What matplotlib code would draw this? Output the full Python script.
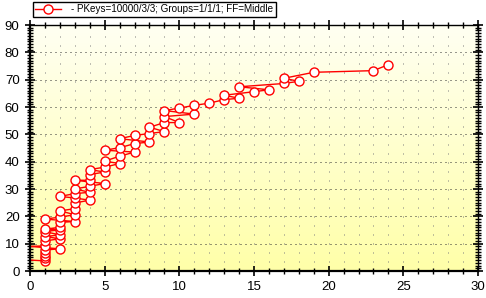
import numpy as np
import matplotlib
matplotlib.use("Agg")
import matplotlib.pyplot as plt
from matplotlib.ticker import MultipleLocator

plt.rcParams['font.family'] = ['Liberation Sans', 'DejaVu Sans']

# data points in drawing order
xs = [0, 0, 1, 1, 1, 1, 1, 2, 0, 1, 1, 2, 1, 2, 1, 2, 1, 2, 2, 3, 1, 2, 3, 2, 3, 3, 4, 3, 2, 3,
      4, 3, 4, 5, 3, 4, 4, 5, 4, 5, 6, 5, 6, 7, 5, 6, 7, 8, 6, 7, 8, 9, 8, 9, 10, 9, 11, 9, 10, 11,
      12, 13, 14, 13, 15, 16, 14, 17, 18, 17, 19, 23, 24]
ys = [0, 4, 3.7, 4.7, 5.6, 6.7, 7.7, 8.1, 9, 9.2, 11, 11.8, 12.6, 13.2, 14.4, 15.1, 15.3, 16, 17.8, 18.1,
      19.0, 19.7, 20.6, 22, 22.8, 24.9, 25.9, 26.7, 27.3, 28.3, 28.8, 30, 31, 32, 33.2, 33.2, 35.3, 36.2,
      37.1, 38, 39.3, 40.2, 42, 43.5, 44.2, 45.1, 46.6, 47.2, 48.4, 49.6, 50.3, 51, 52.6, 54.3, 54.3,
      56.5, 57.4, 58.7, 59.6, 60.6, 61.4, 62.7, 63.2, 64.3, 65.6, 66.3, 67.4, 68.6, 69.4, 70.5, 72.7,
      73.3, 75.5]
label = "- PKeys=10000/3/3; Groups=1/1/1; FF=Middle"
x_ticks = [0, 5, 10, 15, 20, 25, 30]
y_ticks = [0, 10, 20, 30, 40, 50, 60, 70, 80, 90]

W, H = 486, 298
fig = plt.figure(figsize=(W / 100, H / 100), dpi=100)
ax = fig.add_axes([30 / W, 1 - 271 / H, (478 - 30) / W, (271 - 25) / H])

# gradient background (light at top, yellow at bottom)
grad = np.linspace(0, 1, 256).reshape(-1, 1)
top = np.array([1.0, 1.0, 0.95])
bot = np.array([1.0, 1.0, 0.66])
img = top[None, None, :] * (1 - grad[:, :, None]) + bot[None, None, :] * grad[:, :, None]
ax.imshow(img, extent=[0, 30, 0, 90], aspect='auto', zorder=0, origin='upper')
ax.set_xlim(0, 30)
ax.set_ylim(0, 90)

# grid
for xv in range(1, 30):
    ax.axvline(xv, color='#808080', lw=0.72, dashes=(1, 8), zorder=1)
for yv in range(10, 90, 10):
    ax.axhline(yv, color='#303030', lw=0.72, dashes=(1, 4), zorder=1)

mark_idx = [i for i, v in enumerate(xs) if v > 0]
ax.plot(xs, ys, color='#ff0000', lw=1.0, marker='o', markersize=6.5, markevery=mark_idx,
        markerfacecolor='white', markeredgecolor='#ff0000', markeredgewidth=1.0,
        label=label, zorder=3, clip_on=True)

ax.set_xticks(x_ticks)
ax.set_yticks(y_ticks)
ax.xaxis.set_minor_locator(MultipleLocator(1))
ax.yaxis.set_minor_locator(MultipleLocator(1))
ax.tick_params(which='major', direction='inout', length=7, width=1.2, labelsize=9.5,
               top=True, right=True, pad=4)
ax.tick_params(which='minor', direction='inout', length=4, width=1.0, top=True, right=True)
for s in ax.spines.values():
    s.set_linewidth(1.0)
    s.set_color('black')
    s.set_zorder(5)
ax.spines['left'].set_linewidth(1.6)
ax.spines['bottom'].set_linewidth(1.6)

leg = fig.legend(loc='upper left', bbox_to_anchor=(33 / W, 1 - 2 / H), fontsize=7.1,
                 frameon=True, fancybox=False, edgecolor='black', framealpha=1,
                 borderpad=0.25, handlelength=2.6, handletextpad=1.0, borderaxespad=0)
leg.get_frame().set_linewidth(1.0)

fig.savefig('out.png', dpi=100)
